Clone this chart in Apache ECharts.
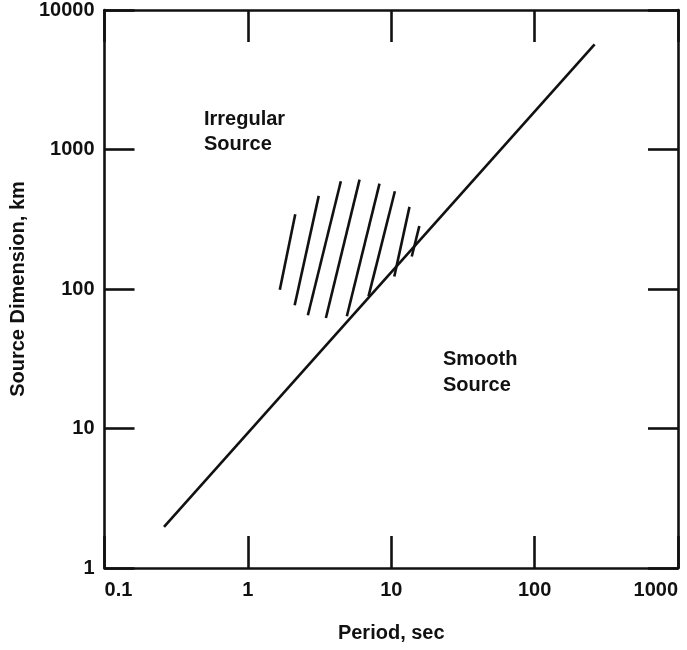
<!DOCTYPE html>
<html>
<head>
<meta charset="utf-8">
<script src="https://cdn.jsdelivr.net/npm/echarts@6/dist/echarts.min.js"></script>
<style>
html,body{margin:0;padding:0;background:#fff;}
#chart{width:687px;height:650px;}
</style>
</head>
<body>
<div id="chart"></div>
<script>
// Period (s) vs source dimension (km)
var xTicks = [0.1, 1, 10, 100, 1000];
var yTicks = [1, 10, 100, 1000, 10000];
var boundaryX = [0.26, 262];
var boundaryY = [1.97, 5680];
var hatchTopX = [2.14, 3.12, 4.45, 6.01, 8.28, 10.6, 13.4, 15.7];
var hatchTopY = [344, 465, 592, 608, 569, 502, 388, 283];
var hatchBotX = [1.67, 2.12, 2.62, 3.50, 4.90, 6.94, 10.5, 13.9];
var hatchBotY = [98.9, 76.4, 64.8, 62.0, 63.8, 88.5, 123, 171];
var labelIrregular = 'Irregular\nSource';
var labelSmooth = 'Smooth\nSource';

var FONT = 'Liberation Sans, Arial, Helvetica, sans-serif';
var INK = '#111';

var chart = echarts.init(document.getElementById('chart'));

var series = [{
  type: 'line',
  xAxisIndex: 0, yAxisIndex: 0,
  data: boundaryX.map(function (x, i) { return [x, boundaryY[i]]; }),
  symbol: 'none',
  lineStyle: { color: INK, width: 2.6 },
  silent: true
}];
hatchTopX.forEach(function (x, i) {
  series.push({
    type: 'line',
    xAxisIndex: 0, yAxisIndex: 0,
    data: [[hatchBotX[i], hatchBotY[i]], [x, hatchTopY[i]]],
    symbol: 'none',
    lineStyle: { color: INK, width: 2.6 },
    silent: true
  });
});

function xAxisCfg(pos, showLabel) {
  return {
    type: 'log', logBase: 10, min: 0.1, max: 1000,
    position: pos,
    name: showLabel ? 'Period, sec' : '',
    nameLocation: 'middle',
    nameGap: 55,
    nameTextStyle: { fontFamily: FONT, fontSize: 20, fontWeight: 'bold', color: INK },
    axisLine: { show: true, onZero: false, lineStyle: { color: INK, width: 2.6 } },
    axisTick: { show: true, inside: true, length: 32, lineStyle: { color: INK, width: 2.6 } },
    minorTick: { show: false },
    splitLine: { show: false },
    axisLabel: {
      show: showLabel, margin: 12,
      fontFamily: FONT, fontSize: 20, fontWeight: 'bold', color: INK,
      alignMinLabel: 'left', alignMaxLabel: 'right',
      formatter: function (v) { return String(v); }
    }
  };
}
function yAxisCfg(pos, showLabel) {
  return {
    type: 'log', logBase: 10, min: 1, max: 10000,
    position: pos,
    name: showLabel ? 'Source Dimension, km' : '',
    nameLocation: 'middle',
    nameGap: 74,
    nameTextStyle: { fontFamily: FONT, fontSize: 20, fontWeight: 'bold', color: INK },
    axisLine: { show: true, onZero: false, lineStyle: { color: INK, width: 2.6 } },
    axisTick: { show: true, inside: true, length: 30, lineStyle: { color: INK, width: 2.6 } },
    minorTick: { show: false },
    splitLine: { show: false },
    axisLabel: {
      show: showLabel, margin: 10,
      fontFamily: FONT, fontSize: 20, fontWeight: 'bold', color: INK,
      formatter: function (v) { return String(v); }
    }
  };
}

chart.setOption({
  animation: false,
  backgroundColor: '#fff',
  grid: { left: 102, right: 9, top: 7, bottom: 82, containLabel: false },
  xAxis: [xAxisCfg('bottom', true), xAxisCfg('top', false)],
  yAxis: [yAxisCfg('left', true), yAxisCfg('right', false)],
  series: series,
  graphic: [
    { type: 'text', left: 204, top: 107, style: { text: labelIrregular, font: 'bold 20px ' + FONT, fill: INK, lineHeight: 25 } },
    { type: 'text', left: 443, top: 346, style: { text: labelSmooth, font: 'bold 20px ' + FONT, fill: INK, lineHeight: 26 } }
  ]
});
</script>
</body>
</html>
